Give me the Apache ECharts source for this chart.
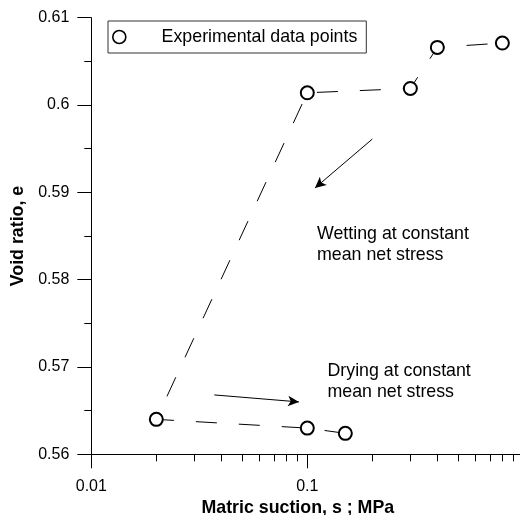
<!DOCTYPE html>
<html>
<head>
<meta charset="utf-8">
<script src="https://cdn.jsdelivr.net/npm/echarts@6/dist/echarts.min.js"></script>
<style>
html,body{margin:0;padding:0;background:#fff;}
#chart{width:520px;height:515px;}
</style>
</head>
<body>
<div id="chart"></div>
<script>
// Data (path order: drying branch, then wetting branch)
const suction   = [0.15,   0.1,   0.02,  0.1,    0.3,    0.4,    0.8];
const voidRatio = [0.5624, 0.5630, 0.5640, 0.6014, 0.6019, 0.6066, 0.6071];
const seriesName = 'Experimental data points';

// Tick values
const xMajorTicks = [0.01, 0.1, 1];
const xMinorTicks = [0.02,0.03,0.04,0.05,0.06,0.07,0.08,0.09,0.2,0.3,0.4,0.5,0.6,0.7,0.8,0.9];

// Annotation arrows (data coordinates)
const wetArrow = [[0.2, 0.5961], [0.1085, 0.5905]];
const dryArrow = [[0.0371, 0.5668], [0.0915, 0.5660]];
const wetText = 'Wetting at constant\nmean net stress';
const dryText = 'Drying at constant\nmean net stress';

const FONT = 'Arial, "Liberation Sans", Helvetica, sans-serif';
const chart = echarts.init(document.getElementById('chart'), null, {renderer:'canvas'});

const option = {
  animation: false,
  backgroundColor: '#fff',
  grid: {left: 91.3, right: -3.3, top: 17.7, bottom: 60.7, containLabel: false, outerBoundsMode: 'none'},
  legend: {
    show: true,
    data: [seriesName],
    left: 108, top: 21,
    orient: 'horizontal',
    padding: [7, 9, 7, 4],
    borderColor: '#333', borderWidth: 1,
    backgroundColor: '#fff',
    icon: 'circle',
    itemWidth: 74.6, itemHeight: 13,
    itemStyle: {color: '#fff', borderColor: '#000', borderWidth: 1.6},
    textStyle: {fontFamily: FONT, fontSize: 17.8, color: '#000'},
    selectedMode: false
  },
  xAxis: [{
    type: 'log', logBase: 10, min: 0.01, max: 1,
    name: 'Matric suction, s ; MPa',
    nameLocation: 'middle', nameGap: 41,
    nameTextStyle: {fontFamily: FONT, fontSize: 17.8, fontWeight: 'bold', color: '#000', padding: [0, 19, 0, 0]},
    axisLine: {show: true, lineStyle: {color: '#000', width: 1}},
    axisTick: {show: true, inside: false, length: 14, customValues: xMajorTicks, lineStyle: {color: '#000', width: 1}},
    axisLabel: {show: true, margin: 24, customValues: xMajorTicks, fontFamily: FONT, fontSize: 16, color: '#000',
      hideOverlap: false,
      formatter: function(v){ return String(+v.toPrecision(6)); }},
    splitLine: {show: false},
    minorTick: {show: false}
  }, {
    type: 'log', logBase: 10, min: 0.01, max: 1,
    position: 'bottom',
    axisLine: {show: false},
    axisTick: {show: true, inside: false, length: 7, customValues: xMinorTicks, lineStyle: {color: '#000', width: 1}},
    axisLabel: {show: false},
    splitLine: {show: false}
  }],
  yAxis: {
    type: 'value', min: 0.56, max: 0.61, interval: 0.01,
    name: 'Void ratio, e',
    nameLocation: 'middle', nameGap: 54,
    nameTextStyle: {fontFamily: FONT, fontSize: 17.8, fontWeight: 'bold', color: '#000'},
    axisLine: {show: true, lineStyle: {color: '#000', width: 1}},
    axisTick: {show: true, inside: false, length: 14, lineStyle: {color: '#000', width: 1}},
    minorTick: {show: true, splitNumber: 2, length: 7, lineStyle: {color: '#000', width: 1}},
    axisLabel: {margin: 22, fontFamily: FONT, fontSize: 16, color: '#000',
      formatter: function(v){ return String(+v.toFixed(4)); }},
    splitLine: {show: false}
  },
  series: [{
    name: seriesName,
    type: 'line',
    xAxisIndex: 0,
    data: suction.map((s, i) => [s, voidRatio[i]]),
    symbol: 'emptyCircle',
    symbolSize: 13,
    showAllSymbol: true,
    itemStyle: {color: '#000', borderColor: '#000', borderWidth: 1.6},
    lineStyle: {color: '#000', width: 1, type: [21, 22]},
    emphasis: {disabled: true},
    z: 3,
    markLine: {
      silent: true,
      symbol: ['none', 'arrow'],
      symbolSize: [8, 11],
      label: {show: false},
      emphasis: {disabled: true},
      lineStyle: {color: '#000', width: 1, type: 'solid'},
      data: [
        [{coord: wetArrow[0]}, {coord: wetArrow[1]}],
        [{coord: dryArrow[0]}, {coord: dryArrow[1]}]
      ]
    }
  }],
  graphic: [
    {type: 'text', left: 317, top: 224, z: 10,
     style: {text: wetText, font: '17.8px ' + FONT, fill: '#000', lineHeight: 20.5}},
    {type: 'text', left: 327.5, top: 361, z: 10,
     style: {text: dryText, font: '17.8px ' + FONT, fill: '#000', lineHeight: 20.5}}
  ]
};
chart.setOption(option);
</script>
</body>
</html>
